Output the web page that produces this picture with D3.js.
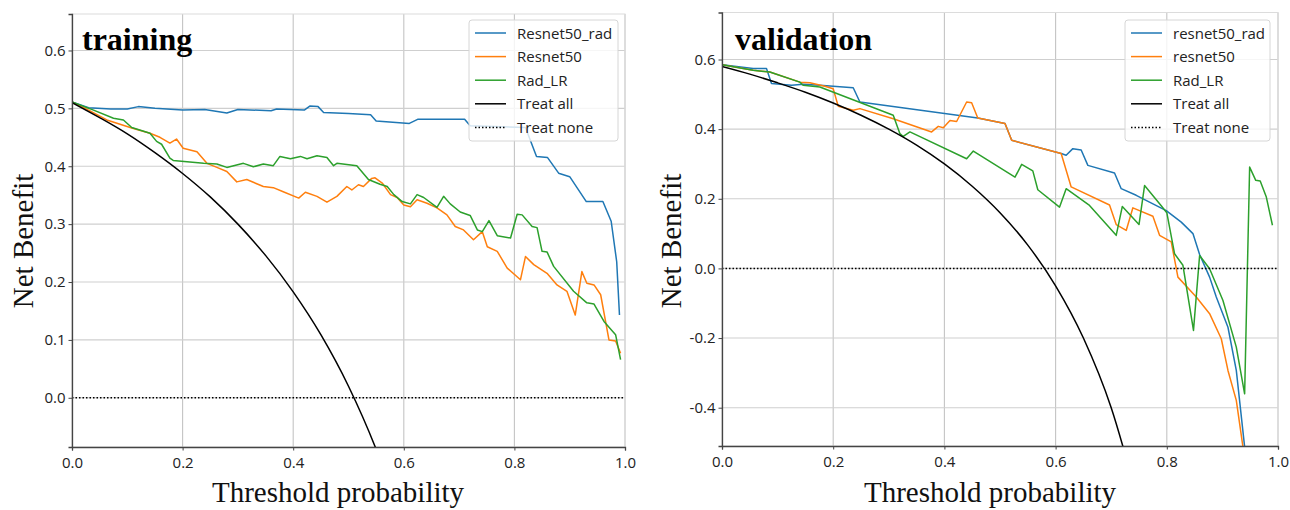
<!DOCTYPE html>
<html>
<head>
<meta charset="utf-8">
<script src="https://cdn.jsdelivr.net/npm/d3@7"></script>
<style>
  body { margin: 0; background: #fff; }
  .tick text { font-family: "Open Sans", "Noto Sans", sans-serif; font-size: 15px; fill: #222; }
  .lab { font-family: "Liberation Serif", "Times New Roman", serif; font-size: 29px; fill: #111; }
  .ttl { font-family: "Liberation Serif", "Times New Roman", serif; font-size: 32px; font-weight: bold; fill: #000; }
  .leg { font-family: "Open Sans", "Noto Sans", sans-serif; font-size: 15px; fill: #222; }
</style>
</head>
<body>
<script>
// values: [threshold, net benefit]
var trainRad = [[0,.511],[.03,.501],[.07,.499],[.10,.499],[.12,.503],[.15,.500],[.20,.497],[.24,.498],[.28,.492],[.30,.498],[.36,.496],[.37,.499],[.42,.497],[.43,.504],[.445,.503],[.455,.493],[.50,.491],[.54,.489],[.55,.478],[.61,.474],[.625,.481],[.71,.481],[.72,.470],[.82,.467],[.84,.417],[.86,.415],[.88,.388],[.90,.382],[.93,.339],[.96,.339],[.975,.305],[.985,.235],[.99,.143]];
var trainResnet = [[0,.511],[.03,.497],[.063,.480],[.108,.466],[.141,.457],[.159,.450],[.177,.440],[.189,.447],[.201,.431],[.226,.425],[.244,.405],[.262,.398],[.280,.391],[.298,.373],[.316,.377],[.346,.365],[.364,.363],[.382,.356],[.410,.345],[.422,.355],[.443,.348],[.461,.338],[.479,.348],[.497,.365],[.506,.359],[.518,.368],[.527,.365],[.542,.379],[.548,.380],[.561,.371],[.576,.351],[.588,.346],[.600,.333],[.612,.330],[.624,.342],[.642,.336],[.660,.328],[.678,.316],[.693,.296],[.708,.290],[.726,.273],[.742,.287],[.751,.261],[.769,.253],[.787,.224],[.811,.204],[.820,.244],[.835,.230],[.859,.215],[.877,.195],[.895,.184],[.910,.143],[.922,.218],[.931,.198],[.944,.195],[.956,.178],[.971,.100],[.983,.098],[.992,.077]];
var trainLR = [[0,.511],[.039,.497],[.075,.483],[.093,.480],[.108,.467],[.141,.457],[.153,.443],[.162,.438],[.177,.414],[.183,.410],[.238,.405],[.262,.404],[.280,.398],[.310,.405],[.328,.399],[.346,.404],[.364,.401],[.376,.417],[.395,.413],[.413,.417],[.425,.413],[.443,.418],[.461,.415],[.473,.401],[.479,.405],[.515,.401],[.536,.377],[.557,.369],[.570,.365],[.582,.351],[.597,.339],[.612,.335],[.624,.351],[.636,.346],[.660,.329],[.672,.348],[.684,.335],[.702,.321],[.720,.315],[.733,.290],[.742,.287],[.754,.306],[.769,.280],[.793,.276],[.805,.317],[.814,.316],[.832,.296],[.841,.294],[.850,.253],[.859,.252],[.871,.227],[.907,.184],[.931,.164],[.944,.162],[.962,.132],[.983,.109],[.992,.066]];
var trainAll = [[0,.51],[.05,.484],[.1,.456],[.15,.4235],[.2,.3875],[.25,.347],[.3,.30],[.35,.246],[.4,.183],[.45,.109],[.5,.02],[.55,-.089],[.6,-.225]];

var validRad = [[0,.585],[.056,.574],[.08,.574],[.089,.531],[.125,.526],[.146,.529],[.176,.526],[.236,.519],[.248,.478],[.46,.432],[.509,.416],[.521,.368],[.610,.330],[.619,.325],[.631,.344],[.646,.340],[.658,.296],[.706,.274],[.718,.229],[.745,.210],[.799,.166],[.826,.133],[.847,.100],[.859,.040],[.877,-.025],[.889,-.082],[.910,-.169],[.925,-.293],[.940,-.513]];
var validResnet = [[0,.585],[.056,.569],[.086,.564],[.140,.535],[.158,.533],[.185,.523],[.200,.516],[.209,.466],[.236,.454],[.248,.459],[.308,.430],[.377,.392],[.389,.408],[.398,.404],[.410,.425],[.422,.422],[.440,.478],[.449,.476],[.46,.432],[.509,.416],[.521,.368],[.610,.330],[.628,.234],[.697,.182],[.709,.126],[.727,.109],[.739,.174],[.775,.150],[.787,.095],[.808,.076],[.820,-.025],[.853,-.082],[.877,-.130],[.898,-.202],[.910,-.293],[.925,-.379],[.937,-.513]];
var validLR = [[0,.585],[.056,.569],[.086,.564],[.140,.535],[.146,.526],[.176,.521],[.308,.440],[.320,.387],[.326,.379],[.338,.392],[.440,.315],[.452,.337],[.527,.262],[.539,.299],[.559,.280],[.568,.226],[.607,.176],[.619,.229],[.661,.181],[.709,.095],[.720,.178],[.750,.126],[.760,.238],[.79,.18],[.80,.16],[.814,.042],[.829,.009],[.848,-.178],[.859,.037],[.877,-.001],[.901,-.092],[.925,-.226],[.940,-.360],[.949,.291],[.960,.253],[.968,.251],[.979,.205],[.990,.124]];
var validAll = [[0,.58],[.05,.558],[.1,.533],[.15,.506],[.2,.475],[.25,.44],[.3,.40],[.35,.354],[.4,.30],[.45,.236],[.5,.16],[.55,.067],[.6,-.05],[.65,-.20],[.7,-.40],[.75,-.68]];
var treatNone = [[0,0],[1,0]];

var xTicks = [0, 0.2, 0.4, 0.6, 0.8, 1.0];
var trainYTicks = [0, 0.1, 0.2, 0.3, 0.4, 0.5, 0.6];
var validYTicks = [-0.4, -0.2, 0, 0.2, 0.4, 0.6];
var trainNames = ["Resnet50_rad", "Resnet50", "Rad_LR", "Treat all", "Treat none"];
var validNames = ["resnet50_rad", "resnet50", "Rad_LR", "Treat all", "Treat none"];
var colors = ["#1f77b4", "#ff7f0e", "#2ca02c", "#000000", "#000000"];

var svg = d3.select("body").append("svg")
    .attr("width", 1290)
    .attr("height", 510);

function drawPanel(cfg) {
    var x = d3.scaleLinear().domain([0, 1]).range([cfg.left, cfg.right]);
    var y = d3.scaleLinear().domain(cfg.ydom).range([cfg.bottom, cfg.top]);
    var g = svg.append("g");

    //grid
    g.selectAll(".vg").data(xTicks).enter().append("line")
        .attr("x1", d => x(d)).attr("x2", d => x(d))
        .attr("y1", cfg.top).attr("y2", cfg.bottom)
        .attr("stroke", "#c4c4c4").attr("stroke-width", 1.1);
    g.selectAll(".hg").data(cfg.yticks).enter().append("line")
        .attr("x1", cfg.left).attr("x2", cfg.right)
        .attr("y1", d => y(d)).attr("y2", d => y(d))
        .attr("stroke", "#cfcfcf").attr("stroke-width", 1.1);

    //frame
    g.append("rect")
        .attr("x", cfg.left).attr("y", cfg.top)
        .attr("width", cfg.right - cfg.left).attr("height", cfg.bottom - cfg.top)
        .attr("fill", "none").attr("stroke", "#dcdcdc");

    var clipId = "clip" + cfg.id;
    svg.append("clipPath").attr("id", clipId)
        .append("rect")
        .attr("x", cfg.left).attr("y", cfg.top)
        .attr("width", cfg.right - cfg.left).attr("height", cfg.bottom - cfg.top);

    var line = d3.line().x(d => x(d[0])).y(d => y(d[1]));
    var smooth = d3.line().x(d => x(d[0])).y(d => y(d[1])).curve(d3.curveMonotoneX);

    var lines = g.append("g").attr("clip-path", "url(#" + clipId + ")");
    cfg.series.forEach(function(s, i) {
        lines.append("path")
            .datum(s)
            .attr("d", i == 3 ? smooth : line)
            .attr("fill", "none")
            .attr("stroke", colors[i])
            .attr("stroke-width", 1.5)
            .attr("stroke-linejoin", "round")
            .attr("stroke-dasharray", i == 4 ? "1.5,2" : null);
    });

    //axes
    var xAxis = g.append("g")
        .attr("transform", "translate(0," + cfg.bottom + ")")
        .call(d3.axisBottom(x).tickValues(xTicks).tickFormat(d3.format(".1f")).tickSize(3.5).tickPadding(4));
    var yAxis = g.append("g")
        .attr("transform", "translate(" + cfg.left + ",0)")
        .call(d3.axisLeft(y).tickValues(cfg.yticks).tickFormat(d3.format(".1f")).tickSize(3.5).tickPadding(3));
    [xAxis, yAxis].forEach(function(a) {
        a.select(".domain").attr("stroke", "#444").attr("stroke-width", 1.3);
        a.selectAll(".tick line").attr("stroke", "#444");
    });
    xAxis.selectAll("text").attr("dy", "0.9em");
    yAxis.selectAll("text").text(d => d3.format(".1f")(d).replace("−", "-"));

    //labels
    g.append("text").attr("class", "ttl")
        .attr("x", cfg.left + cfg.titleDx).attr("y", 50)
        .text(cfg.title);
    g.append("text").attr("class", "lab")
        .attr("x", cfg.xlabX).attr("y", 502)
        .attr("text-anchor", "middle")
        .text("Threshold probability");
    g.append("text").attr("class", "lab")
        .attr("transform", "translate(" + cfg.ylabX + ",241) rotate(-90)")
        .attr("text-anchor", "middle")
        .text("Net Benefit");

    //legend
    var lg = g.append("g").attr("transform", "translate(" + cfg.legX + ",20)");
    lg.append("rect")
        .attr("width", cfg.legW).attr("height", 121)
        .attr("rx", 3)
        .attr("fill", "#fff").attr("fill-opacity", 0.8)
        .attr("stroke", "#d6d6d6");
    cfg.names.forEach(function(n, i) {
        var yy = 13 + i * 23.6;
        lg.append("line")
            .attr("x1", 6).attr("x2", 37)
            .attr("y1", yy).attr("y2", yy)
            .attr("stroke", colors[i]).attr("stroke-width", 1.5)
            .attr("stroke-dasharray", i == 4 ? "1.5,2" : null);
        lg.append("text").attr("class", "leg")
            .attr("x", 48).attr("y", yy + 5.5)
            .text(n);
    });
}

drawPanel({
    id: "a", left: 72, right: 625, top: 14, bottom: 447,
    ydom: [-0.085, 0.663], yticks: trainYTicks,
    series: [trainRad, trainResnet, trainLR, trainAll, treatNone],
    names: trainNames, title: "training", titleDx: 10,
    xlabX: 338, ylabX: 33, legX: 469, legW: 149
});
drawPanel({
    id: "b", left: 722, right: 1278, top: 12.5, bottom: 446,
    ydom: [-0.51, 0.735], yticks: validYTicks,
    series: [validRad, validResnet, validLR, validAll, treatNone],
    names: validNames, title: "validation", titleDx: 13,
    xlabX: 990, ylabX: 681, legX: 1125, legW: 145
});
</script>
</body>
</html>
